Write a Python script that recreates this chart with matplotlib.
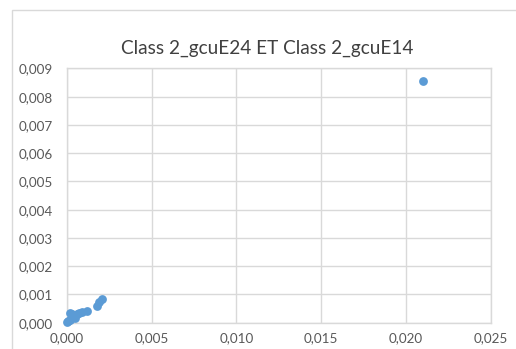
import matplotlib
matplotlib.use("Agg")
import matplotlib.pyplot as plt
from matplotlib.ticker import FuncFormatter, MultipleLocator
from matplotlib.patches import Rectangle

# values
gcuE24 = [0.0000, 0.0001, 0.0002, 0.0003, 0.0004, 0.0002, 0.0005, 0.0006,
          0.0007, 0.0009, 0.0012, 0.0018, 0.0019, 0.0021, 0.0210]
gcuE14 = [0.00002, 0.00005, 0.0001, 0.0003, 0.0002, 0.00033, 0.00015, 0.0003,
          0.00035, 0.00038, 0.0004, 0.00058, 0.00072, 0.00083, 0.00855]
title = "Class 2_gcuE24 ET Class 2_gcuE14"

plt.rcParams["font.family"] = ["Lato", "DejaVu Sans"]
grid_col = "#d9d9d9"
text_col = "#595959"

fig = plt.figure(figsize=(5.16, 3.49), dpi=100)
W, H = 516, 349

# chart area border (only the left and top edges are in frame)
fig.patches.append(Rectangle((12 / W, -0.1), 1.2, (H - 10) / H + 0.1,
                             transform=fig.transFigure, fill=False,
                             edgecolor=grid_col, linewidth=1.0))

ax = fig.add_axes([66.7 / W, 1 - 322.7 / H, (490.7 - 66.7) / W, (322.7 - 68.5) / H])
ax.scatter(gcuE24, gcuE14, s=40, color="#5b9bd5", zorder=3, linewidths=0,
           clip_on=False)

ax.set_xlim(0, 0.025)
ax.set_ylim(0, 0.009)
ax.xaxis.set_major_locator(MultipleLocator(0.005))
ax.yaxis.set_major_locator(MultipleLocator(0.001))
fmt = FuncFormatter(lambda v, p: f"{v:.3f}".replace(".", ","))
ax.xaxis.set_major_formatter(fmt)
ax.yaxis.set_major_formatter(fmt)
ax.grid(True, color=grid_col, linewidth=1.0, zorder=0)
for s in ax.spines.values():
    s.set_color(grid_col)
    s.set_linewidth(1.0)
ax.tick_params(length=0, labelsize=9.7, labelcolor=text_col)
ax.tick_params(axis="y", pad=10)
ax.tick_params(axis="x", pad=7)

fig.text(267 / W, 1 - 48 / H, title, ha="center", va="center",
         fontsize=13.7, color="#404040")

fig.savefig("out.png", dpi=100)
